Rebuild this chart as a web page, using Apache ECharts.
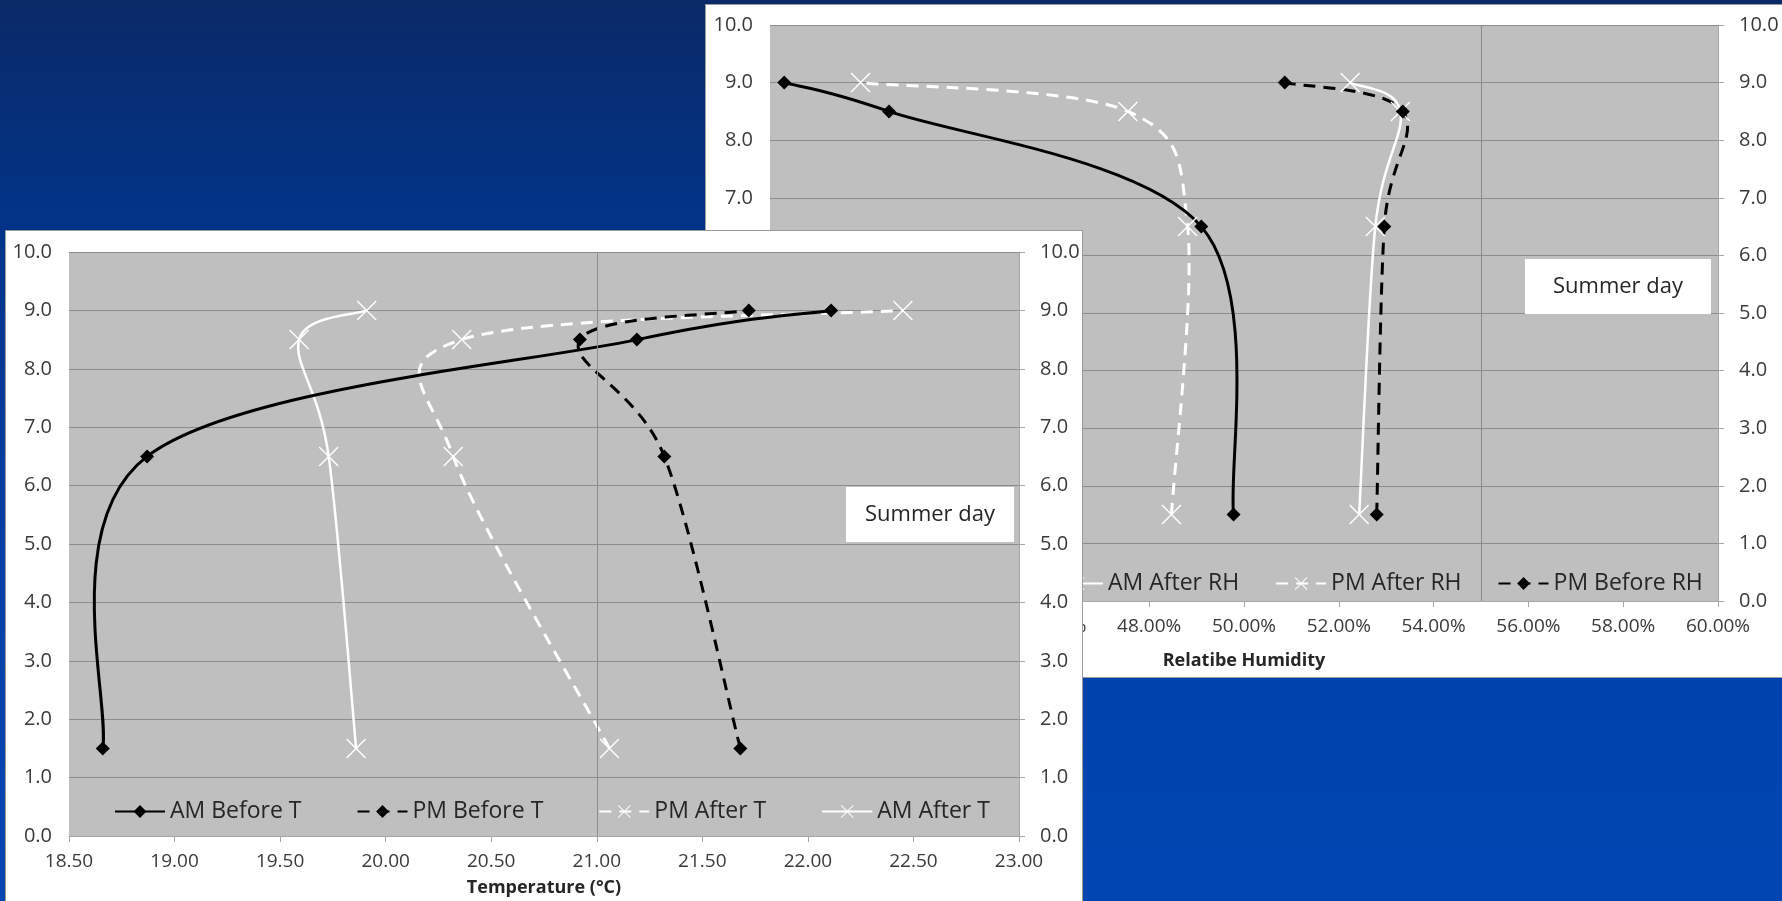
<!DOCTYPE html>
<html>
<head>
<meta charset="utf-8">
<script src="https://cdn.jsdelivr.net/npm/echarts@6/dist/echarts.min.js"></script>
<style>
  html, body { margin: 0; padding: 0; }
  body {
    width: 1782px; height: 901px; overflow: hidden; position: relative;
    background: linear-gradient(180deg, #0b2a68 0%, #00358c 28%, #0040a8 65%, #0046b2 100%);
  }
  .panel { position: absolute; width: 1076px; height: 672px; background: #ffffff; box-shadow: 0 0 0 1px #9c9c9c; }
  #back { left: 706px; top: 5px; }
  #front { left: 6px; top: 231px; }
</style>
</head>
<body>
<div id="back" class="panel"></div>
<div id="front" class="panel"></div>
<script>
// ---- data ----
const heights = [1.5, 6.5, 8.5, 9.0];

// Temperature chart (°C)
const tAmBefore = [18.66, 18.87, 21.19, 22.11];
const tPmBefore = [21.68, 21.32, 20.92, 21.72];
const tPmAfter  = [21.06, 20.32, 20.36, 22.45];
const tAmAfter  = [19.86, 19.73, 19.59, 19.91];

// Relative humidity chart (%)
const rhAmBefore = [49.78, 49.10, 42.51, 40.30];
const rhAmAfter  = [52.43, 52.77, 53.30, 52.24];
const rhPmAfter  = [48.47, 48.81, 47.55, 41.91];
const rhPmBefore = [52.80, 52.96, 53.35, 50.86];

const tempAxis = { min: 18.5, max: 23, step: 0.5, marker: 21 };
const rhAxis   = { min: 40, max: 60, step: 2, marker: 55 };
const heightAxis = { min: 0, max: 10, step: 1 };

const legendTemp = ['AM Before T', 'PM Before T', 'PM After T', 'AM After T'];
const legendRH   = ['AM Before RH', 'AM After RH', 'PM After RH', 'PM Before RH'];
const boxLabel = 'Summer day';

// ---- styles ----
const FONT = 'Open Sans';
const TXT = '#3a3a3a';
const GRIDC = '#8c8c8c';
const AXC = '#a6a6a6';
const XSYM = 'path://M0,0.5L0.5,0L5,4.5L9.5,0L10,0.5L5.5,5L10,9.5L9.5,10L5,5.5L0.5,10L0,9.5L4.5,5Z';
const DASH = [12, 8];

// Excel-like smoothed curve (Catmull-Rom -> cubic Bezier) in pixel space via the axis scales
function curveSeries(xs, color, width, dashed, z) {
  return {
    type: 'custom', silent: true, z: z, data: [0], clip: true,
    renderItem: function (params, api) {
      const p = heights.map((h, i) => api.coord([xs[i], h]));
      let d = 'M' + p[0][0] + ',' + p[0][1];
      for (let i = 0; i < p.length - 1; i++) {
        const p0 = p[i - 1] || p[i], p1 = p[i], p2 = p[i + 1], p3 = p[i + 2] || p[i + 1];
        const c1x = p1[0] + (p2[0] - p0[0]) / 6, c1y = p1[1] + (p2[1] - p0[1]) / 6;
        const c2x = p2[0] - (p3[0] - p1[0]) / 6, c2y = p2[1] - (p3[1] - p1[1]) / 6;
        d += ' C' + c1x + ',' + c1y + ' ' + c2x + ',' + c2y + ' ' + p2[0] + ',' + p2[1];
      }
      return {
        type: 'path', shape: { pathData: d },
        style: { fill: 'none', stroke: color, lineWidth: width, lineDash: dashed ? DASH : null }
      };
    }
  };
}

function markerSeries(name, xs, black, dashed) {
  const color = black ? '#000000' : '#ffffff';
  return {
    name, type: 'line', data: heights.map((h, i) => [xs[i], h]), z: 5,
    symbol: black ? 'diamond' : XSYM, symbolSize: black ? [14, 14] : 20,
    itemStyle: { color },
    lineStyle: { color, width: black ? 3 : (dashed ? 3 : 2.5), type: dashed ? DASH : 'solid', opacity: 0 }
  };
}

function legendItem(name) { return { name, lineStyle: { opacity: 1 } }; }

function buildOption(cfg) {
  const series = [
    { type: 'line', data: [], z: 1, silent: true,
      markLine: { silent: true, symbol: 'none', label: { show: false }, animation: false,
        lineStyle: { color: GRIDC, width: 1, type: 'solid' }, data: [{ xAxis: cfg.xa.marker }] } }
  ];
  cfg.lines.forEach(l => series.push(curveSeries(l.xs, l.black ? '#000000' : '#ffffff',
    l.black ? 3 : (l.dashed ? 3 : 2.5), l.dashed, l.black ? 3 : 2)));
  cfg.lines.forEach(l => series.push(markerSeries(l.name, l.xs, l.black, l.dashed)));
  return {
    animation: false,
    textStyle: { fontFamily: FONT },
    grid: { left: cfg.grid[0], top: cfg.grid[1], right: cfg.grid[2], bottom: cfg.grid[3],
            containLabel: false, outerBoundsMode: 'none',
            show: true, backgroundColor: '#bfbfbf', borderWidth: 0 },
    legend: {
      data: cfg.legend.map(legendItem), left: cfg.legendLeft, top: cfg.legendTop,
      itemWidth: 50, itemHeight: 16, itemGap: cfg.legendGap,
      textStyle: { fontFamily: FONT, fontSize: 23, color: '#262626' }
    },
    xAxis: {
      type: 'value', min: cfg.xa.min, max: cfg.xa.max, interval: cfg.xa.step,
      name: cfg.xName, nameLocation: 'middle', nameGap: cfg.xNameGap,
      nameTextStyle: { fontFamily: FONT, fontWeight: 'bold', fontSize: 18, color: '#262626' },
      axisLine: { show: true, onZero: false, lineStyle: { color: AXC } },
      axisTick: { show: true, length: 6, lineStyle: { color: AXC } },
      axisLabel: { formatter: cfg.xFmt, fontSize: 19, color: TXT, margin: 16 },
      splitLine: { show: false }
    },
    yAxis: [
      {
        type: 'value', min: heightAxis.min, max: heightAxis.max, interval: heightAxis.step, position: 'left',
        name: 'Height (m)', nameLocation: 'middle', nameGap: 34,
        nameTextStyle: { fontFamily: FONT, fontWeight: 'bold', fontSize: 18, color: '#262626', padding: [0, 26, 0, 0] },
        axisLine: { show: false }, axisTick: { show: false },
        axisLabel: { formatter: v => v.toFixed(1), fontSize: 20, color: TXT, margin: 17 },
        splitLine: { show: true, lineStyle: { color: GRIDC, width: 1 } }
      },
      {
        type: 'value', min: heightAxis.min, max: heightAxis.max, interval: heightAxis.step, position: 'right',
        axisLine: { show: true, lineStyle: { color: AXC } },
        axisTick: { show: true, length: 6, lineStyle: { color: AXC } },
        axisLabel: { formatter: v => v.toFixed(1), fontSize: 20, color: TXT, margin: 21 },
        splitLine: { show: false }
      }
    ],
    graphic: [
      { type: 'rect', x: cfg.box[0], y: cfg.box[1], shape: { width: cfg.box[2], height: cfg.box[3] },
        style: { fill: '#ffffff' }, z: 50 },
      { type: 'text', x: cfg.box[0] + cfg.box[2] / 2, y: cfg.box[1] + cfg.box[3] / 2, z: 51,
        style: { text: boxLabel, fontFamily: FONT, fontSize: 22, fill: '#262626', align: 'center', verticalAlign: 'middle' } }
    ],
    series: series
  };
}

const back = echarts.init(document.getElementById('back'));
back.setOption(buildOption({
  grid: [64, 20, 64, 76],
  legend: legendRH, legendLeft: 99, legendTop: 562, legendGap: 36,
  xa: rhAxis, xName: 'Relatibe Humidity', xNameGap: 51,
  xFmt: v => v.toFixed(2) + '%',
  box: [819, 254, 186, 55],
  lines: [
    { name: 'AM After RH', xs: rhAmAfter, black: false, dashed: false },
    { name: 'PM After RH', xs: rhPmAfter, black: false, dashed: true },
    { name: 'AM Before RH', xs: rhAmBefore, black: true, dashed: false },
    { name: 'PM Before RH', xs: rhPmBefore, black: true, dashed: true }
  ]
}));

const front = echarts.init(document.getElementById('front'));
front.setOption(buildOption({
  grid: [63, 21, 63, 67],
  legend: legendTemp, legendLeft: 103, legendTop: 564, legendGap: 55,
  xa: tempAxis, xName: 'Temperature (°C)', xNameGap: 43,
  xFmt: v => v.toFixed(2),
  box: [840, 256, 168, 55],
  lines: [
    { name: 'PM After T', xs: tPmAfter, black: false, dashed: true },
    { name: 'AM After T', xs: tAmAfter, black: false, dashed: false },
    { name: 'AM Before T', xs: tAmBefore, black: true, dashed: false },
    { name: 'PM Before T', xs: tPmBefore, black: true, dashed: true }
  ]
}));
</script>
</body>
</html>
